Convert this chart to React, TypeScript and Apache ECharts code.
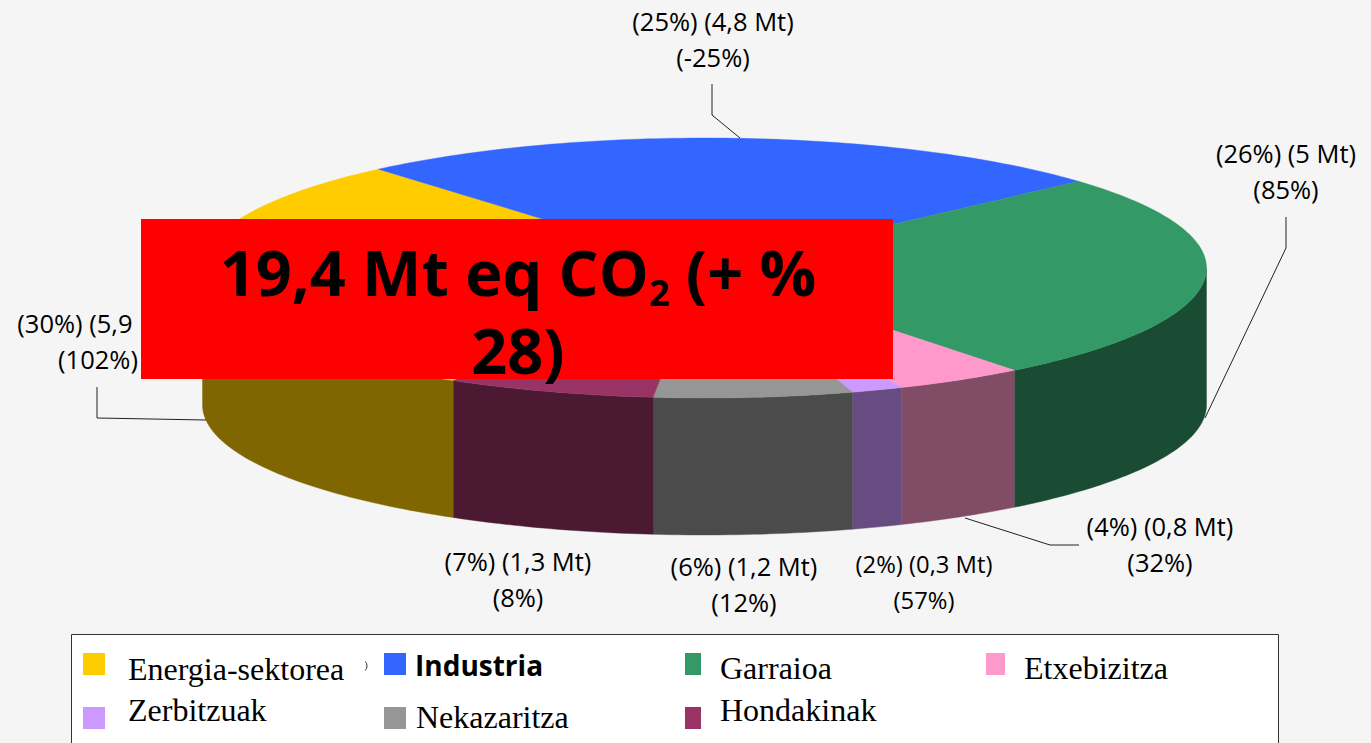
import React, { useEffect, useRef } from "react";
import * as echarts from "echarts";

// ---------- data ----------
const categories = ["Energia-sektorea", "Industria", "Garraioa", "Etxebizitza", "Zerbitzuak", "Nekazaritza", "Hondakinak"];
const mtValues = [5.9, 4.78, 5.05, 0.81, 0.32, 1.24, 1.3];
const shareLabels = ["30%", "25%", "26%", "4%", "2%", "6%", "7%"];
const mtLabels = ["5,9 Mt", "4,8 Mt", "5 Mt", "0,8 Mt", "0,3 Mt", "1,2 Mt", "1,3 Mt"];
const changeLabels = ["102%", "-25%", "85%", "32%", "57%", "12%", "8%"];
const titleMain = "19,4 Mt eq CO";
const titleSub = "2";
const titleEnd = " (+ %";
const titleLast = "28)";

// ---------- styles & layout ----------
const topColors = ["#FFCC00", "#3366FF", "#339966", "#FF99CC", "#CC99FF", "#969696", "#993366"];
const sideColors = ["#7F6600", "#1A3380", "#1A4C33", "#804C66", "#664C80", "#4B4B4B", "#4C1933"];
const CX = 704.5, CY = 268, RX = 502, RY = 130, WALL = 137;
const START_DEG = 210;
const LABEL_FONT = '"Comic Sans MS", "Open Sans", sans-serif';
const labelAnchors: [number, number][] = [
  [98, 341], [713, 39], [1286, 171], [1160, 544], [924, 582], [744, 584], [518, 579],
];
const labelSizes = [25.5, 25.5, 25.5, 25.5, 23.8, 25.5, 25.5];
const leaderLines: (number[][] | null)[] = [
  [[97, 387], [97, 418], [206, 420]],
  [[712, 84], [712, 115], [740, 138]],
  [[1286, 217], [1286, 248], [1205, 418]],
  [[1079, 545], [1050, 545], [965, 518]],
  null, null, null,
];
const legendLayout = [
  { sx: 83, sw: 22, sy: 653, tx: 128, ty: 669 },
  { sx: 384, sw: 22, sy: 653, tx: 415, ty: 665 },
  { sx: 685, sw: 16, sy: 653, tx: 720, ty: 668 },
  { sx: 986, sw: 19, sy: 653, tx: 1024, ty: 668 },
  { sx: 83, sw: 22, sy: 707, tx: 128, ty: 710 },
  { sx: 384, sw: 22, sy: 707, tx: 416, ty: 717 },
  { sx: 685, sw: 16, sy: 707, tx: 720, ty: 710 },
];

const pt = (deg: number, dy = 0): number[] => {
  const r = (deg * Math.PI) / 180;
  return [CX + RX * Math.sin(r), CY + dy - RY * Math.cos(r)];
};
const arc = (a: number, b: number, dy = 0): number[][] => {
  const out: number[][] = [];
  const n = Math.max(2, Math.ceil(Math.abs(b - a)));
  for (let i = 0; i <= n; i++) out.push(pt(a + ((b - a) * i) / n, dy));
  return out;
};

const total = mtValues.reduce((s, v) => s + v, 0);

const renderSlice = (params: any, api: any) => {
  const i = params.dataIndex;
  let before = 0;
  for (let k = 0; k < i; k++) before += mtValues[k];
  const a0 = START_DEG + (before / total) * 360;
  const a1 = a0 + (api.value(0) / total) * 360;
  const children: any[] = [];
  // front wall (the part of the slice between 90deg and 270deg, also one turn later)
  for (const shift of [0, 360]) {
    const w0 = Math.max(a0, 90 + shift);
    const w1 = Math.min(a1, 270 + shift);
    if (w1 > w0) {
      children.push({
        type: "polygon",
        shape: { points: [...arc(w0, w1), ...arc(w1, w0, WALL)] },
        style: { fill: sideColors[i], stroke: sideColors[i], lineWidth: 0.4 },
      });
    }
  }
  children.push({
    type: "polygon",
    shape: { points: [[CX, CY], ...arc(a0, a1)] },
    style: { fill: topColors[i], stroke: topColors[i], lineWidth: 0.4 },
  });
  const leader = leaderLines[i];
  if (leader) {
    children.push({
      type: "polyline",
      shape: { points: leader },
      style: { fill: "none", stroke: "#222222", lineWidth: 1 },
    });
  }
  children.push({
    type: "text",
    x: labelAnchors[i][0],
    y: labelAnchors[i][1],
    style: {
      text: `(${shareLabels[i]}) (${mtLabels[i]})\n(${changeLabels[i]})`,
      fill: "#000000",
      font: `${labelSizes[i]}px ${LABEL_FONT}`,
      lineHeight: 36,
      align: "center",
      verticalAlign: "middle",
    },
  });
  return { type: "group", children };
};

const buildGraphic = () => {
  const els: any[] = [
    { type: "rect", z: 5, shape: { x: 71.5, y: 634.5, width: 1207, height: 130 }, style: { fill: "#FFFFFF", stroke: "#333333", lineWidth: 1 } },
    { type: "arc", z: 6, shape: { cx: 360, cy: 666, r: 7, startAngle: -0.7, endAngle: 0.7 }, style: { fill: "none", stroke: "#333333", lineWidth: 1 } },
  ];
  categories.forEach((name, i) => {
    const l = legendLayout[i];
    els.push({ type: "rect", z: 6, shape: { x: l.sx, y: l.sy, width: l.sw, height: 22 }, style: { fill: topColors[i] } });
    const bold = i === 1;
    els.push({
      type: "text", z: 6, x: l.tx, y: l.ty,
      style: {
        text: name, fill: "#000000",
        font: bold ? `bold 28px ${LABEL_FONT}` : '32px "Liberation Serif", serif',
        align: "left", verticalAlign: "middle",
      },
    });
  });
  els.push({ type: "rect", z: 20, shape: { x: 141, y: 219, width: 752, height: 160 }, style: { fill: "#FF0000" } });
  els.push({
    type: "text", z: 21, x: 518, y: 310,
    style: {
      text: `{m|${titleMain}}{s|${titleSub}}{m|${titleEnd}}\n{m|${titleLast}}`,
      align: "center", verticalAlign: "middle",
      rich: {
        m: { font: `bold 63px ${LABEL_FONT}`, fill: "#000000", lineHeight: 78 },
        s: { font: `bold 36px ${LABEL_FONT}`, fill: "#000000", lineHeight: 78, verticalAlign: "bottom" },
      },
    },
  });
  return { elements: els };
};

export default function App() {
  const ref = useRef<HTMLDivElement>(null);
  useEffect(() => {
    document.body.style.margin = "0";
    document.body.style.overflow = "hidden";
    const chart = echarts.init(ref.current!, undefined, { renderer: "svg" });
    chart.setOption({
      animation: false,
      backgroundColor: "#F5F5F5",
      series: [
        {
          type: "custom",
          coordinateSystem: "none",
          renderItem: renderSlice,
          data: mtValues.map((v, i) => ({ name: categories[i], value: [v] })),
          silent: true,
        },
      ],
      graphic: buildGraphic(),
    });
    return () => chart.dispose();
  }, []);
  return <div ref={ref} style={{ width: 1371, height: 743 }} />;
}
